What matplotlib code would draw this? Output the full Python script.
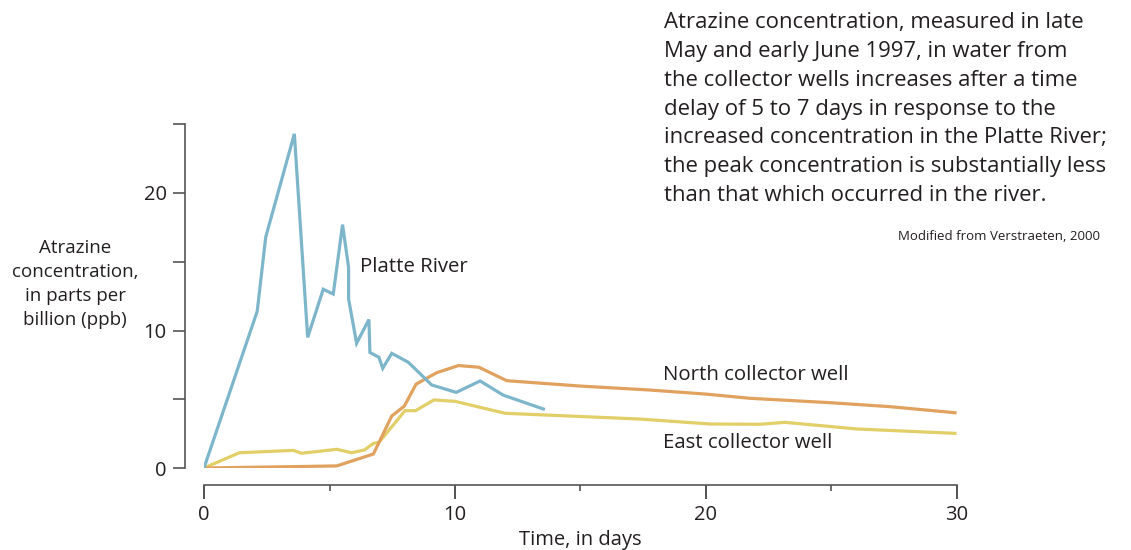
import matplotlib.pyplot as plt
from matplotlib.ticker import MultipleLocator

## dados ##
platte_dias = [0, 2.12, 2.46, 3.60, 4.13, 4.75, 5.15, 5.52, 5.76, 5.76, 6.08, 6.57, 6.61,
               6.97, 7.12, 7.48, 8.14, 9.07, 10.05, 11.0, 11.92, 13.52]
platte_ppb = [0, 11.4, 16.8, 24.3, 9.5, 13.0, 12.65, 17.7, 14.6, 12.3, 9.07, 10.8, 8.4,
              8.05, 7.25, 8.34, 7.69, 6.04, 5.5, 6.33, 5.3, 4.29]

norte_dias = [0, 5.29, 6.75, 7.48, 7.98, 8.45, 9.27, 10.14, 10.95, 12.06, 14.98,
              17.77, 19.96, 21.75, 24.94, 27.33, 29.92]
norte_ppb = [0, 0.15, 1.02, 3.78, 4.5, 6.1, 6.93, 7.45, 7.33, 6.35, 5.96,
             5.67, 5.38, 5.07, 4.75, 4.46, 4.02]

leste_dias = [0, 1.41, 3.56, 3.89, 5.29, 5.88, 6.39, 6.75, 6.97, 8.01, 8.43, 9.16,
              10.0, 11.99, 17.37, 20.16, 22.15, 23.15, 26.0, 29.92]
leste_ppb = [0, 1.11, 1.28, 1.07, 1.36, 1.11, 1.31, 1.79, 1.87, 4.17, 4.17, 4.95,
             4.85, 3.98, 3.56, 3.2, 3.18, 3.32, 2.84, 2.52]

texto_nota = ("Atrazine concentration, measured in late\n"
              "May and early June 1997, in water from\n"
              "the collector wells increases after a time\n"
              "delay of 5 to 7 days in response to the\n"
              "increased concentration in the Platte River;\n"
              "the peak concentration is substantially less\n"
              "than that which occurred in the river.")

cor_texto = '#231f20'
plt.rcParams['font.family'] = ['Open Sans', 'DejaVu Sans']
plt.rcParams['text.color'] = cor_texto

fig = plt.figure(figsize=(11.31, 5.5), dpi=100)
ax = fig.add_axes([204 / 1131, 1 - 468 / 550, 753 / 1131, 343.75 / 550])

# linhas
ax.plot(leste_dias, leste_ppb, color='#e2cf68', lw=2.3, solid_joinstyle='miter')
ax.plot(norte_dias, norte_ppb, color='#e0a25e', lw=2.3, solid_joinstyle='miter')
ax.plot(platte_dias, platte_ppb, color='#7db6cb', lw=2.3, solid_joinstyle='miter')

ax.set_xlim(0, 30)
ax.set_ylim(0, 25)

# eixos (deslocamentos em pontos: 1 pt = 1.389 px a 100 dpi)
for lado in ['top', 'right']:
    ax.spines[lado].set_visible(False)
ax.spines['left'].set_position(('outward', 13.7))
ax.spines['bottom'].set_position(('outward', 12.3))
ax.spines['left'].set_bounds(0, 25)
ax.spines['bottom'].set_bounds(0, 30)
for lado in ['left', 'bottom']:
    ax.spines[lado].set_color('#555555')
    ax.spines[lado].set_linewidth(1.2)

ax.xaxis.set_major_locator(MultipleLocator(10))
ax.xaxis.set_minor_locator(MultipleLocator(5))
ax.yaxis.set_major_locator(MultipleLocator(10))
ax.yaxis.set_minor_locator(MultipleLocator(5))
ax.tick_params(axis='x', which='major', length=10, width=1.2, color='#333333',
               labelsize=14.5, labelcolor=cor_texto, pad=4)
ax.tick_params(axis='x', which='minor', length=4.5, width=1.2, color='#555555')
ax.tick_params(axis='y', which='both', length=8.6, width=1.2, color='#555555',
               labelsize=14.5, labelcolor=cor_texto, pad=4.5)

fig.text(580 / 1131, 1 - 540 / 550, 'Time, in days', ha='center', va='center',
         fontsize=14.5)
fig.text(75 / 1131, 1 - 284 / 550, 'Atrazine\nconcentration,\nin parts per\nbillion (ppb)',
         ha='center', va='center', fontsize=13.5, linespacing=1.42)

# rótulos das séries
ax.text(6.2, 14.6, 'Platte River', fontsize=14.7, va='center')
ax.text(18.3, 6.8, 'North collector well', fontsize=14.7, va='center')
ax.text(18.3, 1.85, 'East collector well', fontsize=14.7, va='center')

# nota
fig.text(664 / 1131, 1 - 12 / 550, texto_nota, ha='left', va='top', fontsize=15.9,
         linespacing=1.49)
fig.text(1100 / 1131, 1 - 237 / 550, 'Modified from Verstraeten, 2000', ha='right',
         va='center', fontsize=9.5)

fig.savefig('out.png', dpi=100)
